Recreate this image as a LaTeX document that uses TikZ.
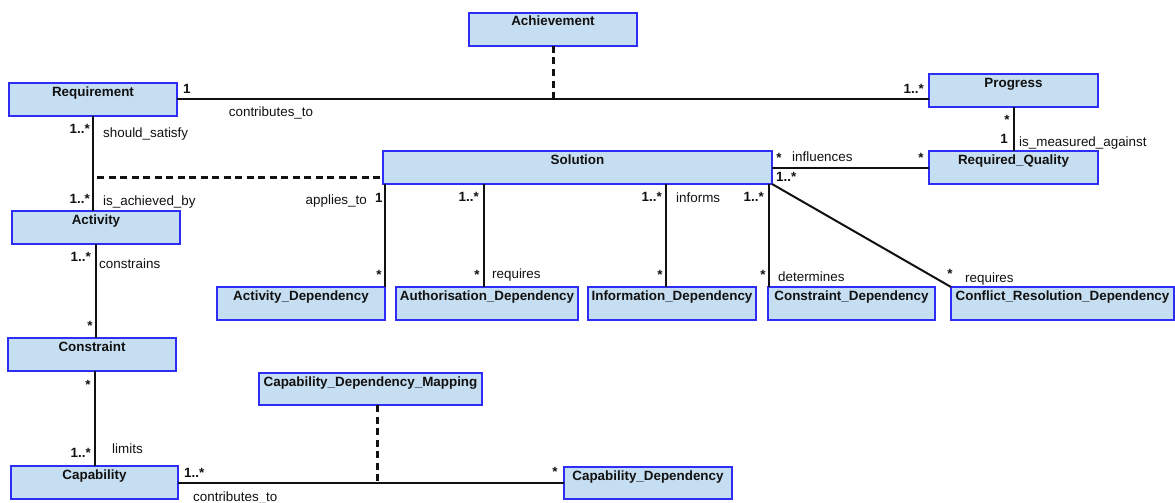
\documentclass[tikz,border=0pt]{standalone}
\usepackage{fontspec}
\setmainfont{Liberation Sans}
\usetikzlibrary{fit}
\definecolor{boxfill}{RGB}{198,222,241}
\definecolor{boxline}{RGB}{45,45,245}
\definecolor{inkc}{RGB}{17,17,17}

% class box: name, x1, y1, x2, y2, title
\newcommand\classbox[6]{%
  \node[box, fit={(#2,#3) (#4,#5)}] (#1) {};
  \node[boxtitle] (#1-t) at ([yshift=-13pt]#1.north) {#6};
}

\begin{document}
\begin{tikzpicture}[x=1pt,y=-1pt,
  box/.style={draw=boxline, fill=boxfill, line width=1.2pt, inner sep=0pt, outer sep=0pt},
  boxtitle/.style={font=\fontsize{13.4}{16}\selectfont\bfseries, text=inkc, anchor=base, inner sep=0pt},
  mult/.style={font=\fontsize{13.4}{16}\selectfont\bfseries, text=inkc, inner sep=0pt},
  role/.style={font=\fontsize{13.4}{16}\selectfont, text=inkc, inner sep=0pt},
  assoc/.style={line width=2pt, draw=inkc},
  link/.style={line width=3pt, draw=inkc, dash pattern=on 7pt off 4.5pt}]

\useasboundingbox (0,0) rectangle (1175,503);

% classes
\classbox{ach}{469}{13}{637}{46}{Achievement}
\classbox{req}{9}{83}{177}{116}{Requirement}
\classbox{prog}{929}{74}{1098}{107}{Progress}
\classbox{sol}{383}{151}{772}{184}{Solution}
\classbox{rq}{929}{151}{1098}{184}{Required\_Quality}
\classbox{act}{12}{211}{180}{244}{Activity}
\classbox{adep}{217}{287}{385}{320}{Activity\_Dependency}
\classbox{auth}{396}{287}{578}{320}{Authorisation\_Dependency}
\classbox{info}{588}{287}{756}{320}{Information\_Dependency}
\classbox{cdep}{768}{287}{935}{320}{Constraint\_Dependency}
\classbox{crd}{951}{287}{1174}{320}{Conflict\_Resolution\_Dependency}
\classbox{con}{8}{338}{176}{371}{Constraint}
\classbox{cdm}{259}{373}{482}{405}{Capability\_Dependency\_Mapping}
\classbox{cap}{11}{466}{178}{499}{Capability}
\classbox{capdep}{564}{467}{732}{499}{Capability\_Dependency}

% associations
\draw[assoc] ([yshift=0.5pt]req.east) -- ([yshift=0.5pt]req.east -| prog.west);
\coordinate (achj) at (ach.south |- req.east);
\draw[link] (ach.south) -- (achj);

\draw[assoc] (req.south) -- (req.south |- act.north);
\coordinate (appl) at (97,177);
\draw[link] (appl) -- (appl -| sol.west);

\draw[assoc] (sol.east) -- (sol.east -| rq.west);
\draw[assoc] (prog.south) -- (rq.north);

\draw[assoc] (adep.north east) -- (adep.north east |- sol.south);
\draw[assoc] ([xshift=-3pt]auth.north) -- ([xshift=-3pt]auth.north |- sol.south);
\draw[assoc] ([xshift=-6pt]info.north) -- ([xshift=-6pt]info.north |- sol.south);
\draw[assoc] ([xshift=1pt]cdep.north west) -- ([xshift=1pt]cdep.north west |- sol.south);
\draw[assoc] (sol.south east) -- (crd.north west);

\draw[assoc] (act.south) -- (act.south |- con.north);
\draw[assoc] (cap.north) -- (cap.north |- con.south);
\draw[assoc] (cap.east) -- (cap.east -| capdep.west);
\coordinate (cdmj) at ([xshift=6.5pt]cdm.south |- cap.east);
\draw[link] ([xshift=6.5pt]cdm.south) -- (cdmj);

% role names and multiplicities
\node[mult, anchor=base west] (m1) at (183,93) {1};
\node[role, anchor=base] (r1) at (271,116) {contributes\_to};
\node[mult, anchor=base east] (m2) at (924,93) {1..*};

\node[mult, anchor=base east] (m3) at (90,133) {1..*};
\node[role, anchor=base west] (r2) at (103,137) {should\_satisfy};
\node[mult, anchor=base east] (m4) at (90,203) {1..*};
\node[role, anchor=base west] (r3) at (103,205) {is\_achieved\_by};

\node[role, anchor=base east] (r4) at (367,204) {applies\_to};
\node[mult, anchor=base west] (m5) at (375,202) {1};
\node[mult, anchor=base] (m6) at (379,279) {*};

\node[mult, anchor=base east] (m7) at (479,201) {1..*};
\node[mult, anchor=base] (m8) at (477,279) {*};
\node[role, anchor=base west] (r5) at (492,278) {requires};

\node[mult, anchor=base east] (m9) at (662,201) {1..*};
\node[role, anchor=base west] (r6) at (676,202) {informs};
\node[mult, anchor=base] (m10) at (660,279) {*};

\node[mult, anchor=base east] (m11) at (764,201) {1..*};
\node[mult, anchor=base] (m12) at (763,279) {*};
\node[role, anchor=base west] (r7) at (778,281) {determines};

\node[mult, anchor=base] (m13) at (950,278) {*};
\node[role, anchor=base west] (r8) at (965,282) {requires};

\node[mult, anchor=base] (m14) at (779,162) {*};
\node[role, anchor=base west] (r9) at (792,161) {influences};
\node[mult, anchor=base] (m15) at (921,162) {*};
\node[mult, anchor=base west] (m16) at (776,181) {1..*};

\node[mult, anchor=base] (m17) at (1007,124) {*};
\node[mult, anchor=base east] (m18) at (1008,143) {1};
\node[role, anchor=base west] (r10) at (1019,146) {is\_measured\_against};

\node[mult, anchor=base east] (m19) at (91,261) {1..*};
\node[role, anchor=base west] (r11) at (99,268) {constrains};
\node[mult, anchor=base] (m20) at (90,330) {*};

\node[mult, anchor=base] (m21) at (88,389) {*};
\node[mult, anchor=base east] (m22) at (91,457) {1..*};
\node[role, anchor=base west] (r12) at (112,453) {limits};

\node[mult, anchor=base west] (m23) at (184,477) {1..*};
\node[role, anchor=base west] (r13) at (193,501) {contributes\_to};
\node[mult, anchor=base] (m24) at (555,476) {*};
\end{tikzpicture}
\end{document}
